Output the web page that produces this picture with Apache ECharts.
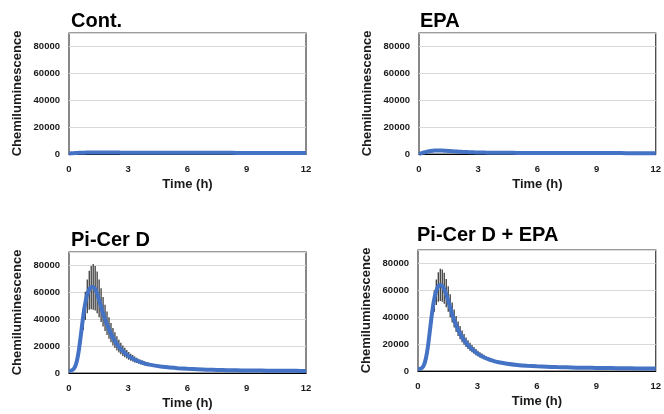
<!DOCTYPE html>
<html>
<head>
<meta charset="utf-8">
<script src="https://cdn.jsdelivr.net/npm/echarts@6/dist/echarts.min.js"></script>
<style>
html,body{margin:0;padding:0;background:#fff;}
#c{width:664px;height:414px;}
</style>
</head>
<body>
<div id="c"></div>
<script>
// Time points (h)
var time = [0,0.1,0.2,0.3,0.4,0.5,0.6,0.7,0.8,0.9,1.0,1.1,1.2,1.3,1.4,1.5,1.6,1.7,1.8,1.9,2.0,2.1,2.2,2.3,2.4,2.5,2.6,2.7,2.8,2.9,3.0,3.1,3.2,3.3,3.4,3.5,3.6,3.7,3.8,3.9,4.0,4.5,5,5.5,6,6.5,7,7.5,8,8.5,9,9.5,10,10.5,11,11.5,12];

var titles = ["Cont.", "EPA", "Pi-Cer D", "Pi-Cer D + EPA"];
var xTicks = [0, 3, 6, 9, 12];
var yTicks = [0, 20000, 40000, 60000, 80000];

var contMean = [400,500,600,700,800,900,950,1000,1020,1050,1080,1100,1100,1100,1100,1100,1100,1100,1100,1090,1080,1070,1060,1050,1040,1030,1020,1010,1000,990,980,970,960,950,945,940,935,930,925,920,915,900,890,880,870,860,850,845,840,835,830,825,820,815,810,805,800];
var contSD = [100,150,200,300,400,900,1000,1000,1100,1100,1100,1100,1100,1100,1100,1100,1100,1100,1100,1100,1100,1100,1100,1100,1100,1100,1000,1000,1000,900,400,300,300,300,300,300,300,300,300,300,300,250,250,250,250,250,250,250,250,250,250,250,250,250,250,250,250];

var epaMean = [200,500,900,1300,1700,2000,2300,2500,2600,2650,2650,2600,2550,2450,2350,2250,2150,2050,1950,1850,1750,1650,1580,1500,1430,1370,1310,1260,1210,1170,1130,1100,1070,1040,1010,990,970,950,930,910,900,860,830,800,780,760,740,720,700,690,680,670,660,650,640,630,620];
var epaSD = [100,200,300,400,500,600,700,750,800,800,800,800,800,800,800,800,800,800,800,780,760,740,720,700,680,660,640,620,600,580,560,550,540,530,520,510,500,500,500,500,1100,1100,1100,1100,1100,1100,1100,1100,1100,300,300,300,300,300,300,300,300];

var picerMean = [1500,1800,2500,4500,9000,17000,28000,40000,50000,57000,61500,63500,64000,63000,60000,55500,50500,45500,41000,37000,33500,30000,27000,24500,22000,20000,18200,16600,15200,13900,12800,11800,10900,10100,9400,8800,8200,7700,7200,6800,6400,5100,4200,3600,3100,2800,2500,2300,2100,2000,1900,1800,1750,1700,1650,1600,1550];
var picerSD = [200,300,500,900,1800,3500,5500,8000,10500,12500,14500,16000,17000,16500,15500,14000,12500,11000,9800,8800,8000,7200,6500,5900,5300,4800,4300,3900,3500,3200,2900,2600,2400,2200,2000,1800,1700,1600,1500,1400,1300,1100,1000,900,800,700,650,600,550,500,500,450,450,400,400,400,400];

var picerEpaMean = [1200,1500,2300,4500,9500,18000,30000,42000,52000,58500,62500,64000,63500,61500,58000,53500,48500,43500,39000,35000,31500,28500,25800,23500,21400,19600,18000,16600,15300,14100,13000,12000,11200,10400,9700,9100,8500,8000,7500,7100,6700,5400,4500,3900,3500,3200,2900,2700,2500,2400,2300,2200,2100,2000,1950,1900,1850];
var picerEpaSD = [150,200,350,700,1400,2500,4000,6000,8000,9500,11000,12000,12000,11500,10500,9500,8500,7500,6700,6000,5400,4900,4400,4000,3600,3300,3000,2700,2500,2300,2100,1950,1800,1650,1500,1400,1300,1200,1100,1050,1000,900,800,700,650,600,550,500,500,450,450,400,400,400,400,400,400];

var means = [contMean, epaMean, picerMean, picerEpaMean];
var sds = [contSD, epaSD, picerSD, picerEpaSD];

var FONT = '"Liberation Sans", Arial, sans-serif';
var grids = [
  {left: 69, top: 33, width: 237, height: 121},
  {left: 419, top: 33, width: 237, height: 121},
  {left: 69, top: 252, width: 237, height: 121},
  {left: 418, top: 250, width: 238, height: 121}
];
var titlePos = [
  {left: 71, top: 11},
  {left: 420, top: 11},
  {left: 71, top: 230},
  {left: 417, top: 225}
];

var option = {
  animation: false,
  backgroundColor: '#fff',
  title: titles.map(function(t, i){
    return {text: t, left: titlePos[i].left, top: titlePos[i].top, padding: 0,
      textStyle: {fontFamily: FONT, fontSize: 20, fontWeight: 'bold', color: '#000'}};
  }),
  grid: grids.map(function(g){
    return Object.assign({show: true, borderColor: '#3a3a3a', borderWidth: 1.2, backgroundColor: 'transparent'}, g);
  }),
  xAxis: grids.map(function(g, i){
    return {type: 'value', gridIndex: i, min: xTicks[0], max: xTicks[xTicks.length-1], interval: 3,
      name: 'Time (h)', nameLocation: 'middle', nameGap: 24,
      nameTextStyle: {fontFamily: FONT, fontSize: 13, fontWeight: 'bold', color: '#1a1a1a'},
      axisLine: {show: true, onZero: false, lineStyle: {color: '#000', width: 1}},
      axisTick: {show: false},
      splitLine: {show: false},
      axisLabel: {fontFamily: FONT, fontSize: 9.5, fontWeight: 'bold', color: '#1a1a1a', margin: 10}};
  }),
  yAxis: grids.map(function(g, i){
    return {type: 'value', gridIndex: i, min: yTicks[0], max: 90000, interval: 20000,
      name: 'Chemiluminescence', nameLocation: 'middle', nameGap: 45, nameRotate: 90,
      nameTextStyle: {fontFamily: FONT, fontSize: 13, fontWeight: 'bold', color: '#1a1a1a'},
      axisLine: {show: false},
      axisTick: {show: false},
      splitLine: {show: true, lineStyle: {color: '#d9d9d9', width: 1}},
      axisLabel: {fontFamily: FONT, fontSize: 9.5, fontWeight: 'bold', color: '#1a1a1a', margin: 9,
        showMaxLabel: false,
        formatter: function(v){ return yTicks.indexOf(v) >= 0 ? String(v) : ''; }}};
  }),
  series: []
};

for (var i = 0; i < 4; i++) {
  var errData = time.map(function(t, k){ return [t, means[i][k] - sds[i][k], means[i][k] + sds[i][k]]; });
  option.series.push({
    type: 'custom', xAxisIndex: i, yAxisIndex: i, z: 2, clip: true,
    encode: {x: 0, y: [1, 2]},
    data: errData,
    renderItem: function(params, api){
      var x = api.value(0);
      var p1 = api.coord([x, api.value(1)]);
      var p2 = api.coord([x, api.value(2)]);
      return {type: 'line', shape: {x1: p1[0] + 0.5, y1: p1[1], x2: p2[0] + 0.5, y2: p2[1]},
        style: {stroke: '#3c3c3c', lineWidth: 1.3}};
    }
  });
  option.series.push({
    type: 'line', xAxisIndex: i, yAxisIndex: i, z: 3,
    data: time.map(function(t, k){ return [t, means[i][k]]; }),
    showSymbol: false, smooth: 0.2,
    lineStyle: {color: '#4472C4', width: 4},
    itemStyle: {color: '#4472C4'}
  });
}

var chart = echarts.init(document.getElementById('c'), null, {renderer: 'canvas'});
chart.setOption(option);
</script>
</body>
</html>
